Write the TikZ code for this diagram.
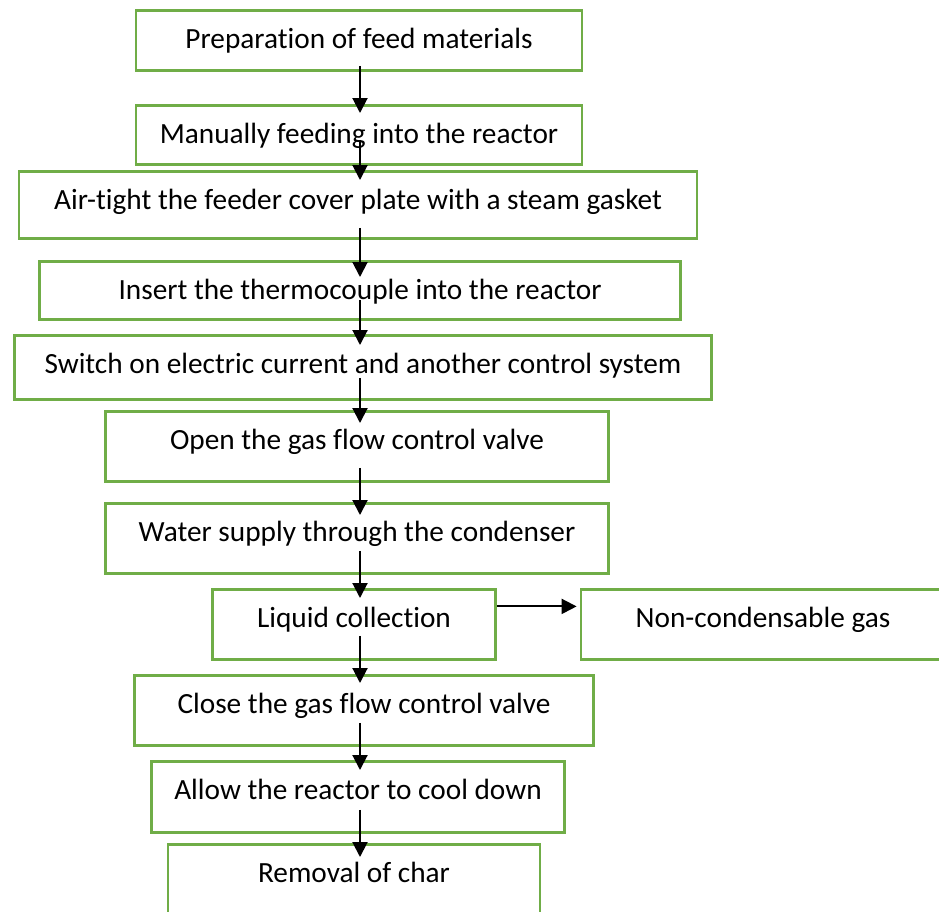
\documentclass[tikz,border=0pt]{standalone}
\usepackage{fontspec}
\setmainfont{Carlito}[Ligatures={NoCommon}]
\usetikzlibrary{arrows.meta}
\definecolor{boxgreen}{HTML}{70AD47}

\begin{document}
\begin{tikzpicture}[
  x=1pt, y=-1pt,
  font=\fontsize{29.3}{35}\selectfont,
  stage/.style={draw=boxgreen, line width=2.8pt, fill=white, anchor=north,
    inner xsep=0pt, inner ysep=0pt, text height=38.5pt},
  flow/.style={draw=black, line width=2pt, -{Triangle[length=15pt,width=15pt]}}
]
\clip (0,0) rectangle (939,911);
\fill[white] (0,0) rectangle (939,911);

\node[stage, minimum width=446pt, text depth=21.5pt] (prep)   at (359,9)   {Preparation of feed materials};
\node[stage, minimum width=446pt, text depth=20.5pt] (feed)   at (359,104) {Manually feeding into the reactor};
\node[stage, minimum width=678pt, text depth=28.5pt] (seal)   at (358,170) {Air-tight the feeder cover plate with a steam gasket};
\node[stage, minimum width=641pt, text depth=19.5pt] (thermo) at (360,260) {Insert the thermocouple into the reactor};
\node[stage, minimum width=697pt, text depth=25.5pt] (power)  at (363,334) {Switch on electric current and another control system};
\node[stage, minimum width=503pt, text depth=31.5pt] (open)   at (357,410) {Open the gas flow control valve};
\node[stage, minimum width=503pt, text depth=31.5pt] (water)  at (357,502) {Water supply through the condenser};
\node[stage, minimum width=283pt, text depth=31.5pt] (liquid) at (354,588) {Liquid collection};
\node[stage, minimum width=364pt, text depth=31.5pt] (gas)    at (763,588) {Non-condensable gas};
\node[stage, minimum width=459pt, text depth=31.5pt] (close)  at (364,674) {Close the gas flow control valve};
\node[stage, minimum width=413pt, text depth=32.5pt] (cool)   at (358,760) {Allow the reactor to cool down};
\node[stage, minimum width=372pt, text depth=61.5pt] (char)   at (354,843) {Removal of char};

% all down arrows sit on one vertical line
\coordinate (spine) at (360,0);
\foreach \from/\to/\s/\e in {prep/feed/6/9, feed/seal/26/10, seal/thermo/12/17,
    thermo/power/21/11, power/open/23/13, open/water/15/13, water/liquid/24/10,
    liquid/close/25/9, close/cool/24/10, cool/char/24/14}
  \draw[flow] ([yshift=\s pt]spine |- \from.south) -- ([yshift=-\e pt]spine |- \to.north);

\draw[flow] ([yshift=18pt]liquid.east) -- ([yshift=18pt,xshift=-3pt]liquid.east -| gas.west);
\end{tikzpicture}
\end{document}
